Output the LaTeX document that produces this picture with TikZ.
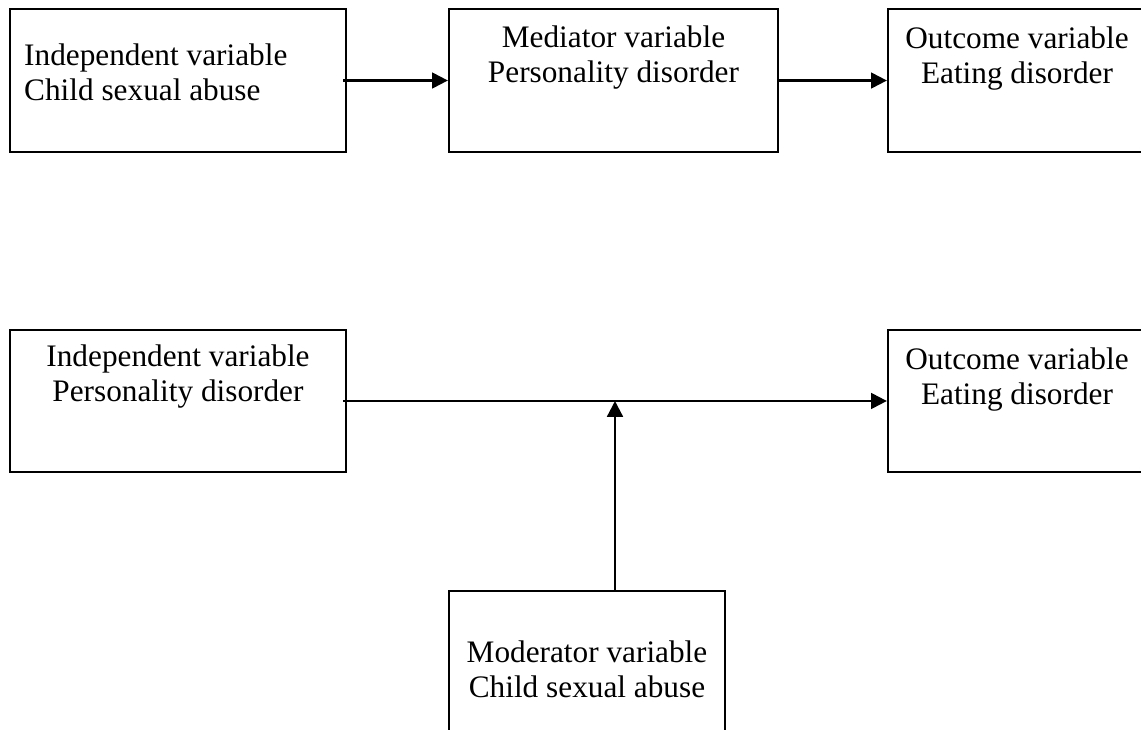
\documentclass[tikz,border=0pt]{standalone}
\usepackage{fontspec}
\setmainfont{Liberation Serif}
\usetikzlibrary{positioning,arrows.meta}
\begin{document}
\begin{tikzpicture}[varbox/.style={draw,line width=1.3pt,minimum height=2.86cm,inner sep=0pt},
  vartext/.style={font=\fontsize{17.8}{19.9}\selectfont,inner sep=0pt,align=center},
  link/.style={line width=1.3pt,-{Triangle[length=9pt,width=9pt]}}]
\useasboundingbox (0,0) rectangle (22.82,-14.6);
% mediation model
\node[varbox,minimum width=6.72cm] (cs) at (3.56,-1.61) {};
\node[varbox,minimum width=6.58cm] (med) at (12.27,-1.61) {};
\node[varbox,minimum width=5.16cm] (out) at (20.34,-1.61) {};
\node[vartext,align=left,anchor=north west,below right=0.71cm and 0.3cm of cs.north west] (cstext) {Independent variable\\Child sexual abuse};
\node[vartext,below=0.36cm of med.north] (medtext) {Mediator variable\\Personality disorder};
\node[vartext,below=0.37cm of out.north] (outtext) {Outcome variable\\Eating disorder};
\draw[link] ([xshift=-0.08cm]cs.east) -- (med.west);
\draw[link] (med.east) -- (out.west);
% moderation model
\node[varbox,minimum width=6.72cm,minimum height=2.84cm] (pd) at (3.56,-8.02) {};
\node[varbox,minimum width=5.16cm,minimum height=2.84cm] (outb) at (20.34,-8.02) {};
\node[varbox,minimum width=5.52cm,minimum height=2.84cm] (mod) at (11.74,-13.24) {};
\node[vartext,below=0.32cm of pd.north] (pdtext) {Independent variable\\Personality disorder};
\node[vartext,below=0.38cm of outb.north] (outbtext) {Outcome variable\\Eating disorder};
\node[vartext,below=1.02cm of mod.north] (modtext) {Moderator variable\\Child sexual abuse};
\draw[link] ([xshift=-0.08cm]pd.east) -- (outb.west) coordinate[pos=0.5] (mid);
\draw[link] (mod.north -| mid) -- (mid);
\end{tikzpicture}
\end{document}
